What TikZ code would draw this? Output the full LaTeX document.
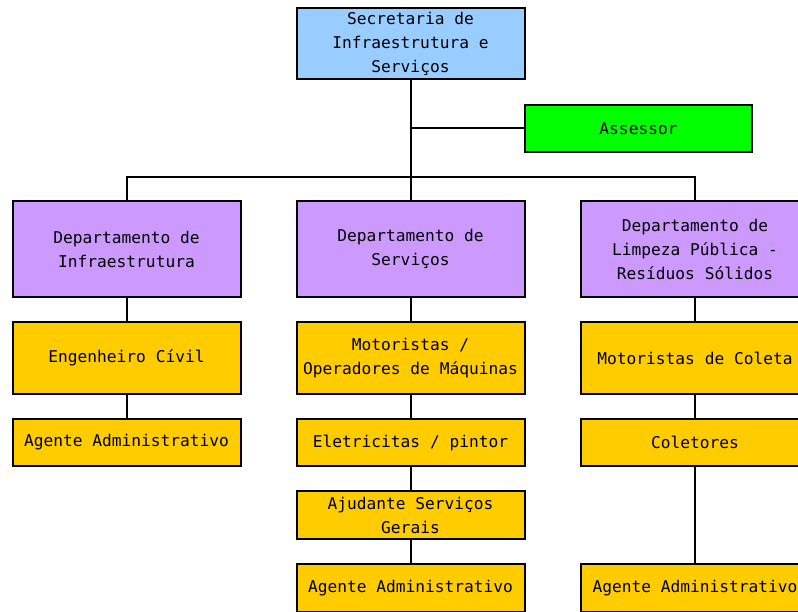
\documentclass[tikz,border=0pt]{standalone}
\usepackage{fontspec}
\setmonofont{DejaVu Sans Mono}
\begin{document}
\begin{tikzpicture}[x=1pt,y=-1pt,
  box/.style={draw=black,line width=2pt,align=center,inner sep=0pt,
    font=\ttfamily\fontsize{16.2}{24}\selectfont},
  blue/.style={box,fill=blueA,minimum width=228pt},
  grn/.style={box,fill=greenA,minimum width=227pt},
  purp/.style={box,fill=purpA,minimum width=228pt,minimum height=96pt},
  yel/.style={box,fill=yelA,minimum width=228pt},
  conn/.style={line width=2pt}]
\definecolor{blueA}{HTML}{99CCFF}
\definecolor{greenA}{HTML}{00FF00}
\definecolor{purpA}{HTML}{CC99FF}
\definecolor{yelA}{HTML}{FFCC00}
\useasboundingbox (0,0) rectangle (798,612);
\clip (0,0) rectangle (798,612);
\fill[white] (0,0) rectangle (798,612);
\node[blue,minimum height=71pt] (top) at (410.5,43.5) {\rule{0pt}{14pt}Secretaria de\\Infraestrutura e\\Serviços};
\node[grn,minimum height=47pt] (ass) at (638.5,128.5) {Assessor};
\node[purp] (d1) at (126.5,249) {\rule{0pt}{13pt}Departamento de\\Infraestrutura};
\node[purp] (d2) at (410.5,249) {\rule{0pt}{13pt}Departamento de\\Serviços};
\node[purp] (d3) at (695,249) {Departamento de\\Limpeza Pública -\\Resíduos Sólidos};
\node[yel,minimum height=72pt] (a2) at (126.5,358) {Engenheiro Cívil};
\node[yel,minimum height=72pt] (b2) at (410.5,358) {Motoristas /\\Operadores de Máquinas};
\node[yel,minimum height=72pt] (c2) at (695,358) {Motoristas de Coleta};
\node[yel,minimum height=47pt] (a3) at (126.5,442.5) {Agente Administrativo};
\node[yel,minimum height=47pt] (b3) at (410.5,442.5) {Eletricitas / pintor};
\node[yel,minimum height=47pt] (c3) at (695,442.5) {Coletores};
\node[yel,minimum height=48pt] (b4) at (410.5,515) {Ajudante Serviços\\Gerais};
\node[yel,minimum height=48pt] (b5) at (410.5,588) {Agente Administrativo};
\node[yel,minimum height=48pt] (c5) at (695,588) {Agente Administrativo};
\coordinate (bus) at (410.5,177);
\draw[conn] (top.south) -- (bus);
\draw[conn] (ass.west) -- (ass.west -| top.south);
\draw[conn] (bus) -| (d1.north);
\draw[conn] (bus) -| (d3.north);
\draw[conn] (bus) -- (d2.north);
\draw[conn] (d1) -- (a2);
\draw[conn] (a2) -- (a3);
\draw[conn] (d2) -- (b2);
\draw[conn] (b2) -- (b3);
\draw[conn] (b3) -- (b4);
\draw[conn] (b4) -- (b5);
\draw[conn] (d3) -- (c2);
\draw[conn] (c2) -- (c3);
\draw[conn] (c3) -- (c5);
\end{tikzpicture}
\end{document}
